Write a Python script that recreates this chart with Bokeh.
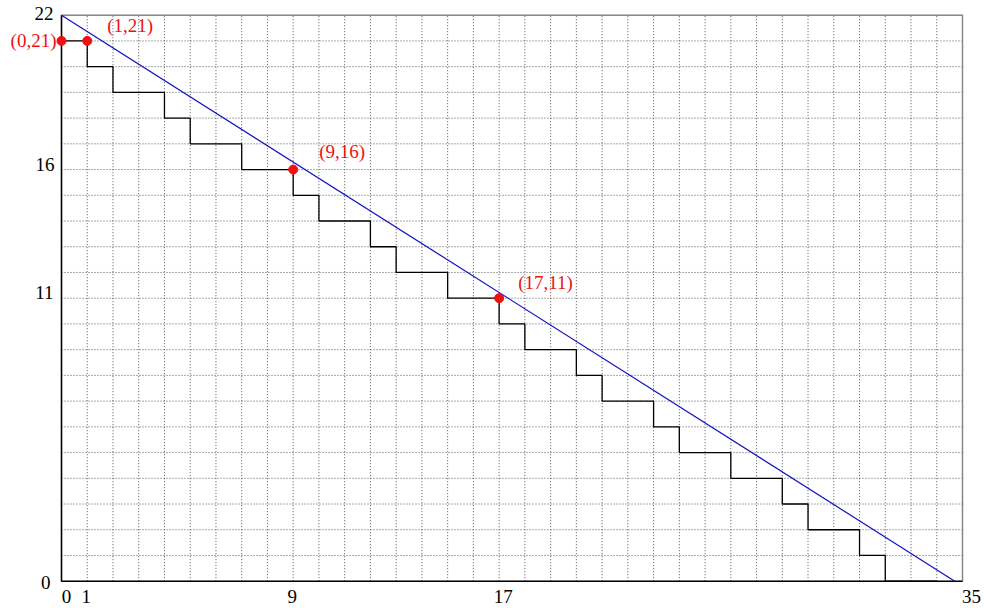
from bokeh.plotting import figure
from bokeh.models import Range1d, ColumnDataSource
from bokeh.core.properties import value
from bokeh.embed import file_html
from bokeh.resources import INLINE

# ---- data ----
step_x = [0, 1, 2, 4, 5, 7, 9, 10, 12, 13, 15, 17, 18, 20, 21, 23, 24, 26, 28, 29, 31, 32, 34]
step_y = [21, 20, 19, 18, 17, 16, 15, 14, 13, 12, 11, 10, 9, 8, 7, 6, 5, 4, 3, 2, 1, 0, 0]
line_x = [0, 34.7]
line_y = [22, 0]
pt_x = [0, 1, 9, 17]
pt_y = [21, 21, 16, 11]
pt_labels = ["(0,21)", "(1,21)", "(9,16)", "(17,11)"]
x_ticks = [0, 1, 9, 17, 35]
y_ticks = [0, 11, 16, 22]
x_lo, x_hi = 0, 35
y_lo, y_hi = 0, 22

# ---- layout (screen px) ----
W, H = 984, 608
frame_l, frame_r, frame_t, frame_b = 61, 962, 14.7, 580.7
lab_dx = [-5, 20, 26, 19]
lab_dy = [0, -15, -18, -16]
lab_align = ["right", "left", "left", "left"]
xlab_dx = [5, -1, -1, 4, 9]
ylab_dx = [-11, -8, -7, -8]
ylab_dy = [1, -6, -5, -2]

# the plotting frame covers the whole canvas so that labels left of x=0 are not clipped
sx = (frame_r - frame_l) / (x_hi - x_lo)
sy = (frame_b - frame_t) / (y_hi - y_lo)
xr = Range1d(x_lo - frame_l / sx, x_hi + (W - frame_r) / sx)
yr = Range1d(y_lo - (H - frame_b) / sy, y_hi + frame_t / sy)

p = figure(width=W, height=H, output_backend="svg", toolbar_location=None,
           x_range=xr, y_range=yr, min_border=0)
p.min_border_left = p.min_border_right = p.min_border_top = p.min_border_bottom = 0
p.xaxis.visible = False
p.yaxis.visible = False
p.xgrid.visible = False
p.ygrid.visible = False
p.outline_line_color = None
p.background_fill_color = "white"
p.border_fill_color = "white"

# dotted grid at every integer
gx = list(range(x_lo, x_hi + 1))
gy = list(range(y_lo, y_hi + 1))
p.segment(x0=gx, y0=[y_lo] * len(gx), x1=gx, y1=[y_hi] * len(gx),
          line_color="#444444", line_dash="1 2", line_width=1, line_alpha=0.9)
p.segment(x0=[x_lo] * len(gy), y0=gy, x1=[x_hi] * len(gy), y1=gy,
          line_color="#444444", line_dash="1 2", line_width=1, line_alpha=0.9)

# frame: grey top/right, black left/bottom
p.line([x_lo, x_hi, x_hi], [y_hi, y_hi, y_lo], line_color="#888888", line_width=1.5)

p.step(step_x, step_y, mode="after", line_color="black", line_width=1.3)
p.line([x_lo, x_lo, x_hi], [y_hi, y_lo, y_lo], line_color="black", line_width=1.6)
p.line(line_x, line_y, line_color="#1010c0", line_width=1.2)
p.scatter(pt_x, pt_y, size=9, fill_color="#f01010", line_color="#f01010")

# point labels
src = ColumnDataSource(dict(x=pt_x, y=pt_y, t=pt_labels, dx=lab_dx, dy=lab_dy, al=lab_align))
p.text(x="x", y="y", text="t", x_offset="dx", y_offset="dy", text_align="al",
       text_baseline="middle", source=src, text_color="#f01010",
       text_font=value("Liberation Serif"), text_font_size="19px")

# tick labels
xs = ColumnDataSource(dict(x=x_ticks, y=[y_lo] * len(x_ticks), t=[str(v) for v in x_ticks], dx=xlab_dx))
p.text(x="x", y="y", text="t", x_offset="dx", y_offset=9, text_align="center",
       text_baseline="top", source=xs, text_color="black",
       text_font=value("Liberation Serif"), text_font_size="19px")
ys = ColumnDataSource(dict(x=[x_lo] * len(y_ticks), y=y_ticks, t=[str(v) for v in y_ticks],
                           dx=ylab_dx, dy=ylab_dy))
p.text(x="x", y="y", text="t", x_offset="dx", y_offset="dy", text_align="right",
       text_baseline="middle", source=ys, text_color="black",
       text_font=value("Liberation Serif"), text_font_size="19px")

open("out.html", "w").write(file_html(p, INLINE))
